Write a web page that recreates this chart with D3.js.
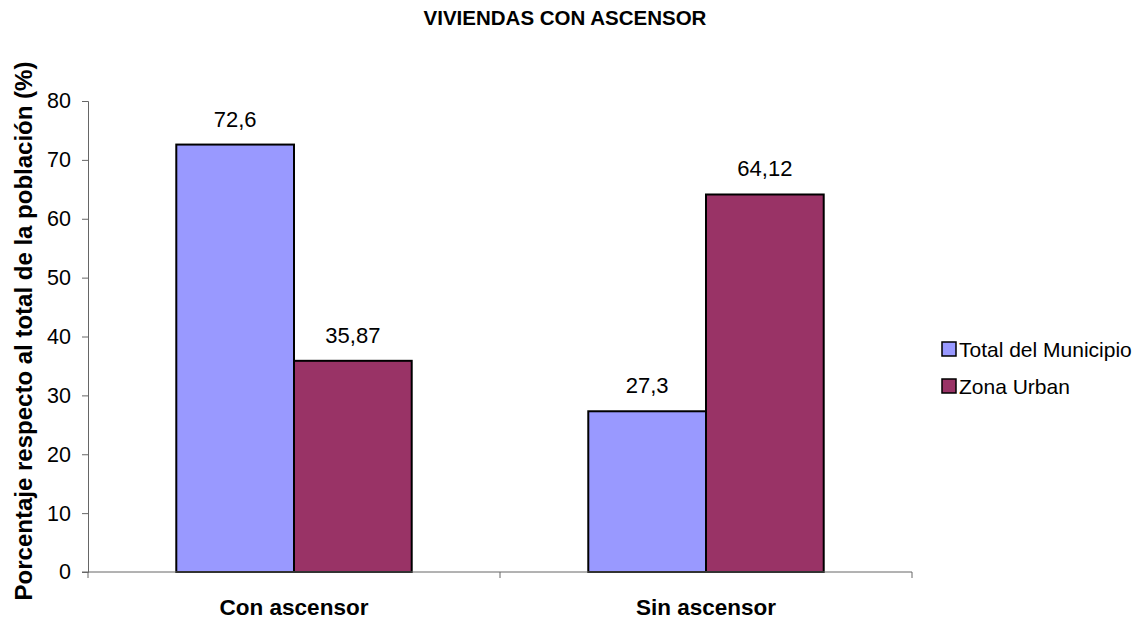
<!DOCTYPE html>
<html>
<head>
<meta charset="utf-8">
<script src="https://cdn.jsdelivr.net/npm/d3@7/dist/d3.min.js"></script>
<style>
  html, body { margin: 0; padding: 0; background: #fff; }
  svg { display: block; font-family: Arial, "Liberation Sans", sans-serif; }
</style>
</head>
<body>
<svg id="chart" width="1141" height="623"></svg>
<script>
// Categories, series and their values
const categories = ["Con ascensor", "Sin ascensor"];
const seriesNames = ["Total del Municipio", "Zona Urban"];
const totalMunicipio = [72.6, 27.3];
const zonaUrban = [35.87, 64.12];
const valueLabels = [["72,6", "27,3"], ["35,87", "64,12"]];
const yTicks = [0, 10, 20, 30, 40, 50, 60, 70, 80];
const colors = ["#9999FF", "#993366"];

const series = [totalMunicipio, zonaUrban];

const svg = d3.select("#chart");
const plot = { left: 88, right: 912, top: 101, bottom: 572 };

const x0 = d3.scaleBand().domain(categories).range([plot.left, plot.right]).paddingInner(0).paddingOuter(0);
// two bars per group with a 150% gap split on both sides
const x1 = d3.scaleBand().domain(seriesNames).range([0, x0.bandwidth()]).paddingInner(0).paddingOuter(0.75);
const y = d3.scaleLinear().domain([0, 80]).range([plot.bottom, plot.top]);

// Title
svg.append("text")
  .attr("x", 565).attr("y", 25)
  .attr("text-anchor", "middle")
  .attr("font-weight", "bold").attr("font-size", 20.5)
  .text("VIVIENDAS CON ASCENSOR");

// Bars
categories.forEach((cat, ci) => {
  series.forEach((vals, si) => {
    svg.append("rect")
      .attr("x", x0(cat) + x1(seriesNames[si]))
      .attr("y", y(vals[ci]))
      .attr("width", x1.bandwidth())
      .attr("height", y(0) - y(vals[ci]))
      .attr("fill", colors[si])
      .attr("stroke", "#000").attr("stroke-width", 2);
    svg.append("text")
      .attr("x", x0(cat) + x1(seriesNames[si]) + x1.bandwidth() / 2)
      .attr("y", y(vals[ci]) - 18)
      .attr("text-anchor", "middle")
      .attr("font-size", 22)
      .attr("fill", "#000")
      .text(valueLabels[si][ci]);
  });
});

// Y axis
const yAxis = d3.axisLeft(y).tickValues(yTicks).tickSize(6).tickPadding(11).tickFormat(d3.format("d"));
const gy = svg.append("g").attr("transform", `translate(${plot.left},0)`).call(yAxis);
gy.select(".domain").attr("stroke", "#666");
gy.selectAll(".tick line").attr("stroke", "#666");
gy.selectAll(".tick text").attr("font-size", 21.5).attr("font-family", "Arial, 'Liberation Sans', sans-serif").attr("fill", "#000");

// X axis with group separators
const gx = svg.append("g").attr("transform", `translate(0,${plot.bottom})`);
gx.append("line").attr("x1", plot.left - 6).attr("x2", plot.right).attr("y1", 0).attr("y2", 0).attr("stroke", "#666");
const sepTicks = [plot.left, x0(categories[1]), plot.right];
gx.selectAll("line.sep").data(sepTicks).enter().append("line")
  .attr("class", "sep")
  .attr("x1", d => d).attr("x2", d => d)
  .attr("y1", 0).attr("y2", 6)
  .attr("stroke", "#666");
gx.selectAll("text.cat").data(categories).enter().append("text")
  .attr("class", "cat")
  .attr("x", d => x0(d) + x0.bandwidth() / 2)
  .attr("y", 43)
  .attr("text-anchor", "middle")
  .attr("font-weight", "bold").attr("font-size", 22.5)
  .text(d => d);

// Y axis title
svg.append("text")
  .attr("transform", "translate(32,331) rotate(-90)")
  .attr("text-anchor", "middle")
  .attr("font-weight", "bold").attr("font-size", 24)
  .text("Porcentaje respecto al total de la población (%)");

// Legend
const legend = svg.append("g").attr("transform", "translate(942,342)");
seriesNames.forEach((name, i) => {
  const g = legend.append("g").attr("transform", `translate(0,${i * 37})`);
  g.append("rect").attr("x", 0).attr("y", 0).attr("width", 14).attr("height", 14)
    .attr("fill", colors[i]).attr("stroke", "#000").attr("stroke-width", 1.5);
  g.append("text").attr("x", 17).attr("y", 14.5).attr("font-size", 21).text(name);
});
</script>
</body>
</html>
